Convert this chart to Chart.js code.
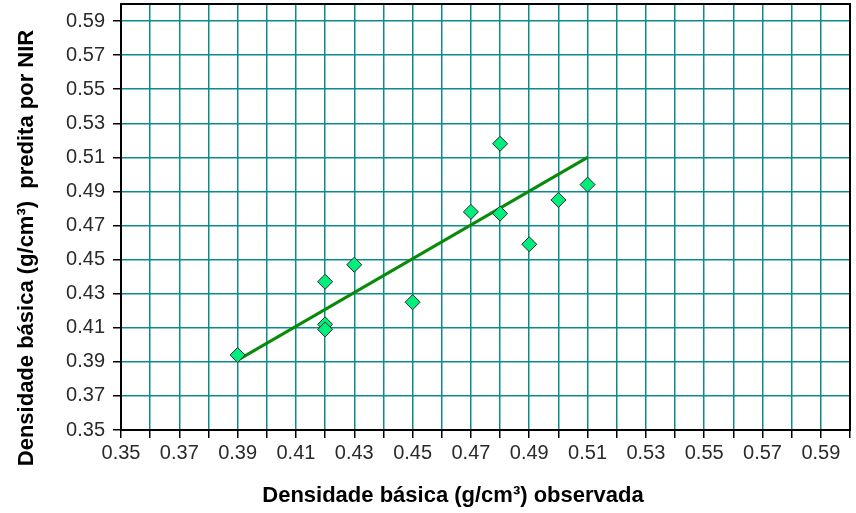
<!DOCTYPE html>
<html>
<head>
<meta charset="utf-8">
<script src="https://cdn.jsdelivr.net/npm/chart.js@4.4.1/dist/chart.umd.min.js"></script>
<style>
  html, body { margin: 0; padding: 0; background: #fff; }
  #wrap { position: relative; width: 856px; height: 513px; }
</style>
</head>
<body>
<div id="wrap"><canvas id="c" width="856" height="513"></canvas></div>
<script>
// Observed vs. NIR-predicted basic density (g/cm³)
const observed  = [0.39, 0.42, 0.42, 0.42, 0.43, 0.45, 0.47, 0.48, 0.48, 0.49, 0.50, 0.51];
const predicted = [0.394, 0.412, 0.409, 0.437, 0.447, 0.425, 0.478, 0.477, 0.518, 0.459, 0.485, 0.494];

// Fitted regression line endpoints
const fitX = [0.39, 0.51];
const fitY = [0.391, 0.510];

// Axis ticks (x: grid every 0.01, labels every 0.02; y: grid every 0.02)
const xTicks = [0.35, 0.36, 0.37, 0.38, 0.39, 0.40, 0.41, 0.42, 0.43, 0.44, 0.45, 0.46, 0.47,
                0.48, 0.49, 0.50, 0.51, 0.52, 0.53, 0.54, 0.55, 0.56, 0.57, 0.58, 0.59, 0.60];
const xTickLabels = ['0.35', '', '0.37', '', '0.39', '', '0.41', '', '0.43', '', '0.45', '', '0.47',
                     '', '0.49', '', '0.51', '', '0.53', '', '0.55', '', '0.57', '', '0.59', ''];
const yTicks = [0.35, 0.37, 0.39, 0.41, 0.43, 0.45, 0.47, 0.49, 0.51, 0.53, 0.55, 0.57, 0.59];
const yTickLabels = ['0.35', '0.37', '0.39', '0.41', '0.43', '0.45', '0.47', '0.49', '0.51', '0.53', '0.55', '0.57', '0.59'];

const xTitle = 'Densidade básica (g/cm³) observada';
const yTitle = 'Densidade básica (g/cm³)  predita por NIR';

const GRID = '#0a8c8c';
const TICK_FONT = { family: '"Liberation Sans", Arial, sans-serif', size: 20 };

// Black frame around the plot area plus the two axis titles
const framePlugin = {
  id: 'frameAndTitles',
  afterDraw(chart) {
    const { ctx, chartArea: a } = chart;
    ctx.save();
    ctx.strokeStyle = '#000';
    ctx.lineWidth = 2;
    ctx.strokeRect(a.left, a.top, a.right - a.left, a.bottom - a.top);
    ctx.fillStyle = '#000';
    ctx.font = 'bold 22px "Liberation Sans", Arial, sans-serif';
    ctx.textAlign = 'center';
    ctx.textBaseline = 'middle';
    ctx.fillText(xTitle, 453, 496);
    ctx.translate(27, 248);
    ctx.rotate(-Math.PI / 2);
    ctx.fillText(yTitle, 0, 0);
    ctx.restore();
  }
};

new Chart(document.getElementById('c'), {
  type: 'scatter',
  data: {
    datasets: [
      {
        type: 'line',
        label: 'Ajuste',
        data: fitX.map((x, i) => ({ x, y: fitY[i] })),
        borderColor: '#0a8a0a',
        borderWidth: 3,
        pointRadius: 0,
        fill: false,
        order: 2
      },
      {
        label: 'Amostras',
        data: observed.map((x, i) => ({ x, y: predicted[i] })),
        pointStyle: 'rectRot',
        pointRadius: 7.5,
        pointHoverRadius: 7.5,
        backgroundColor: '#00ee7c',
        borderColor: '#2a2a2a',
        borderWidth: 1,
        order: 1
      }
    ]
  },
  options: {
    responsive: false,
    animation: false,
    events: [],
    layout: { autoPadding: false, padding: { left: 0, right: 6, top: 4, bottom: 0 } },
    plugins: { legend: { display: false }, tooltip: { enabled: false } },
    scales: {
      x: {
        type: 'linear',
        min: 0.35,
        max: 0.60,
        afterFit(scale) {
          scale.height = 83;
          scale.paddingLeft = 0;
          scale.paddingRight = 0;
        },
        afterBuildTicks(scale) { scale.ticks = xTicks.map(v => ({ value: v })); },
        ticks: {
          autoSkip: false,
          maxRotation: 0,
          padding: 3,
          color: '#2a2a2a',
          font: TICK_FONT,
          callback: (v, i) => xTickLabels[i]
        },
        grid: { color: GRID, lineWidth: 1.5, tickColor: '#000', tickLength: 8, tickWidth: 1.5 },
        border: { color: '#000', width: 2 }
      },
      y: {
        type: 'linear',
        min: 0.35,
        max: 0.60,
        afterFit(scale) {
          scale.width = 121;
          scale.paddingTop = 0;
          scale.paddingBottom = 0;
        },
        afterBuildTicks(scale) { scale.ticks = yTicks.map(v => ({ value: v })); },
        ticks: {
          autoSkip: false,
          padding: 8,
          color: '#2a2a2a',
          font: TICK_FONT,
          callback: (v, i) => yTickLabels[i]
        },
        grid: { color: GRID, lineWidth: 1.5, tickColor: '#000', tickLength: 8, tickWidth: 1.5 },
        border: { color: '#000', width: 2 }
      }
    }
  },
  plugins: [framePlugin]
});
</script>
</body>
</html>
